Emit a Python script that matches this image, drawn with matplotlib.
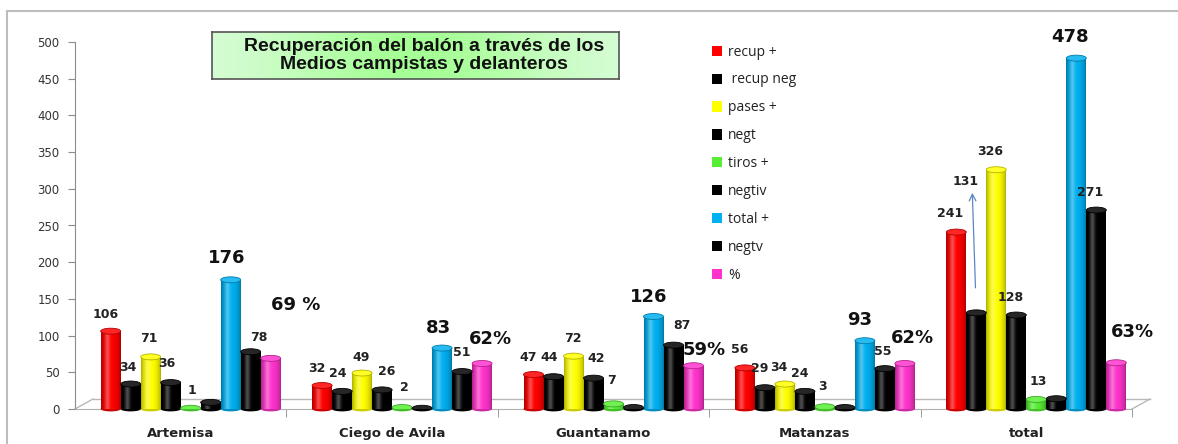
import numpy as np
import matplotlib
matplotlib.use("Agg")
import matplotlib.pyplot as plt
from matplotlib.patches import Ellipse, Rectangle
from matplotlib.lines import Line2D
import matplotlib.transforms as mtransforms
from matplotlib.colors import to_rgb

# ---------------- data ----------------
categories = ["Artemisa", "Ciego de Avila", "Guantanamo", "Matanzas", "total"]
series_names = ["recup +", " recup neg", "pases +", "negt", "tiros +",
                "negtiv", "total +", "negtv", "%"]
recup_pos = [106, 32, 47, 56, 241]
recup_neg = [34, 24, 44, 29, 131]
pases_pos = [71, 49, 72, 34, 326]
negt = [36, 26, 42, 24, 128]
tiros_pos = [1, 2, 7, 3, 13]
negtiv = [9, 1, 2, 2, 14]
total_pos = [176, 83, 126, 93, 478]
negtv = [78, 51, 87, 55, 271]
pct = [69, 62, 59, 62, 63]
pct_labels = ["69 %", "62%", "59%", "62%", "63%"]
y_ticks = [0, 50, 100, 150, 200, 250, 300, 350, 400, 450, 500]
title_lines = ["Recuperación del balón a través de los", "Medios campistas y delanteros"]

series = [recup_pos, recup_neg, pases_pos, negt, tiros_pos, negtiv, total_pos, negtv, pct]
colors = ["#ff0000", "#000000", "#ffff00", "#000000", "#55ee33",
          "#000000", "#00b0f0", "#000000", "#ff33cc"]

# label style / offsets (pixels, relative to bar top) -- styling only
label_offsets = [
    [(-5, 17), (-3, 17), (-2, 18), (-4, 19), (1, 18), None, (-4, 22), (8, 14), (25, 53)],
    [(-5, 17), (-4, 18), (-1, 16), (5, 18), (2, 20), None, (-4, 20), (0, 19), (8, 24)],
    [(-5, 17), (-4, 19), (-1, 18), (3, 20), (-2, 23), None, (-5, 20), (8, 20), (11, 16)],
    [(-5, 18), (-5, 19), (-6, 17), (-5, 18), (-2, 20), None, (-5, 21), (-2, 17), (8, 25)],
    [(-6, 19), (-11, 131), (-6, 18), (-6, 18), (2, 18), None, (-6, 21), (-6, 18), (16, 31)],
]
big_series = {6, 8}

W, H = 1178, 444
fig = plt.figure(figsize=(W / 100, H / 100), dpi=100)
ax = fig.add_axes([75 / W, 35 / H, 1057 / W, 367 / H])
ax.set_xlim(-0.5, 4.5)
ax.set_ylim(0, 500)

n = len(series)
bw = 20 / 211.4
shift = 10 / 211.4
px_per_unit = 367 / 500.0
cap_h = 6 / px_per_unit

def shade(c, m=64):
    t = np.linspace(0, 1, m)
    c = np.array(to_rgb(c))
    f = 0.66 + 0.34 * np.sin(np.pi * t) ** 0.6
    h = 0.30 * np.exp(-((t - 0.32) / 0.13) ** 2)
    base = c[None, :] * f[:, None]
    col = base + (1 - base) * h[:, None]
    return np.clip(col, 0, 1)[None, :, :]

for j, (vals, col) in enumerate(zip(series, colors)):
    xs = np.arange(len(categories)) + (j - (n - 1) / 2) * bw + shift
    bars = ax.bar(xs, vals, width=bw, color=col, label=series_names[j], zorder=3,
                  linewidth=0)
    grad = shade(col)
    for rect, v in zip(bars, vals):
        x0 = rect.get_x()
        im = ax.imshow(grad, extent=[x0, x0 + bw, 0, v], aspect="auto",
                       interpolation="bilinear", zorder=3.1)
        im.set_clip_path(rect)
        cc = np.array(to_rgb(col))
        capc = cc * 0.85 + 0.15
        ax.add_patch(Ellipse((x0 + bw / 2, v), bw, cap_h, facecolor=capc,
                             edgecolor=cc * 0.7, linewidth=0.6, zorder=3.3))
        ax.add_patch(Ellipse((x0 + bw / 2, 0), bw, cap_h * 0.8,
                             facecolor=cc * 0.8, linewidth=0, zorder=3.0,
                             clip_on=False))
    # labels
    for i, (x, v) in enumerate(zip(xs, vals)):
        off = label_offsets[i][j]
        if off is None:
            continue
        txt = pct_labels[i] if j == 8 else str(v)
        if j in big_series:
            kw = dict(fontsize=13, fontweight="bold", color="#111111")
        else:
            kw = dict(fontsize=9, fontweight="bold", color="#222222")
        ax.annotate(txt, (x, v), xytext=off, textcoords="offset pixels",
                    ha="center", va="center", zorder=5, **kw)

# arrow for the 131 label
j_arrow, i_arrow = 1, 4
xa = i_arrow + (j_arrow - (n - 1) / 2) * bw + shift
ax.annotate("", xy=(xa, series[j_arrow][i_arrow]), xycoords="data",
            xytext=(-4, 120), textcoords="offset pixels",
            arrowprops=dict(arrowstyle="<-", color="#5b86c4", lw=0.9,
                            shrinkA=0, shrinkB=18, mutation_scale=12),
            zorder=6)

# axes styling
for s in ["top", "right"]:
    ax.spines[s].set_visible(False)
ax.spines["left"].set_color("#8c8c8c")
ax.spines["bottom"].set_color("#b0b0b0")
ax.set_yticks(y_ticks)
ax.tick_params(axis="y", length=5, color="#8c8c8c", labelsize=8.5,
               labelcolor="#333333", pad=6)
ax.set_xticks(range(len(categories)))
ax.set_xticklabels(categories, fontsize=9.5, fontweight="bold", color="#222222")
ax.tick_params(axis="x", length=0, pad=13)
ax.set_xticks(np.arange(0.5, 5, 1), minor=True)
ax.tick_params(axis="x", which="minor", length=6, color="#8c8c8c")

# 3D floor
off_tr = mtransforms.offset_copy(ax.transAxes, fig=fig, x=18, y=10, units="dots")
ax.add_line(Line2D([0, 1], [0, 0], transform=off_tr, color="#b8b8b8", lw=1,
                   clip_on=False, zorder=1))
for xx in (0, 1):
    p0 = ax.transAxes.transform((xx, 0))
    ax.add_line(Line2D([p0[0], p0[0] + 18], [p0[1], p0[1] + 10], transform=None,
                       color="#b8b8b8", lw=1, clip_on=False, zorder=1))

# legend
leg = ax.legend(loc="upper left", bbox_to_anchor=(706 / W, 1 - 39 / H),
                bbox_transform=fig.transFigure, frameon=False,
                prop={"family": "Open Sans", "size": 10},
                handlelength=0.75, handleheight=0.75, handletextpad=0.45,
                labelspacing=0.93, borderaxespad=0)
for t in leg.get_texts():
    t.set_color("#222222")

# title box with gradient
tax = fig.add_axes([212 / W, 1 - 79 / H, 407 / W, 47 / H])
tt = np.linspace(0, 1, 200)
g = np.exp(-((tt - 0.5) / 0.35) ** 2)
c_edge = np.array(to_rgb("#dcfcdc"))
c_mid = np.array(to_rgb("#a6ff96"))
gimg = (c_edge[None, :] * (1 - g[:, None]) + c_mid[None, :] * g[:, None])[None, :, :]
tax.imshow(gimg, extent=[0, 1, 0, 1], aspect="auto", interpolation="bilinear")
tax.set_xlim(0, 1)
tax.set_ylim(0, 1)
tax.set_xticks([])
tax.set_yticks([])
for s in tax.spines.values():
    s.set_color("#555555")
    s.set_linewidth(1.2)
for k, (line, yy) in enumerate(zip(title_lines, [0.70, 0.30])):
    tax.text(0.52, yy, line, ha="center", va="center", fontsize=14,
             fontweight="bold", family="Liberation Sans", color="#111111")

# outer chart border (left and top edges visible)
fig.add_artist(Line2D([7 / W, 7 / W], [0, 1 - 11 / H], transform=fig.transFigure,
                      color="#bdbdbd", lw=1.5))
fig.add_artist(Line2D([7 / W, 1], [1 - 11 / H, 1 - 11 / H], transform=fig.transFigure,
                      color="#bdbdbd", lw=1.5))

fig.savefig("out.png", dpi=100)
